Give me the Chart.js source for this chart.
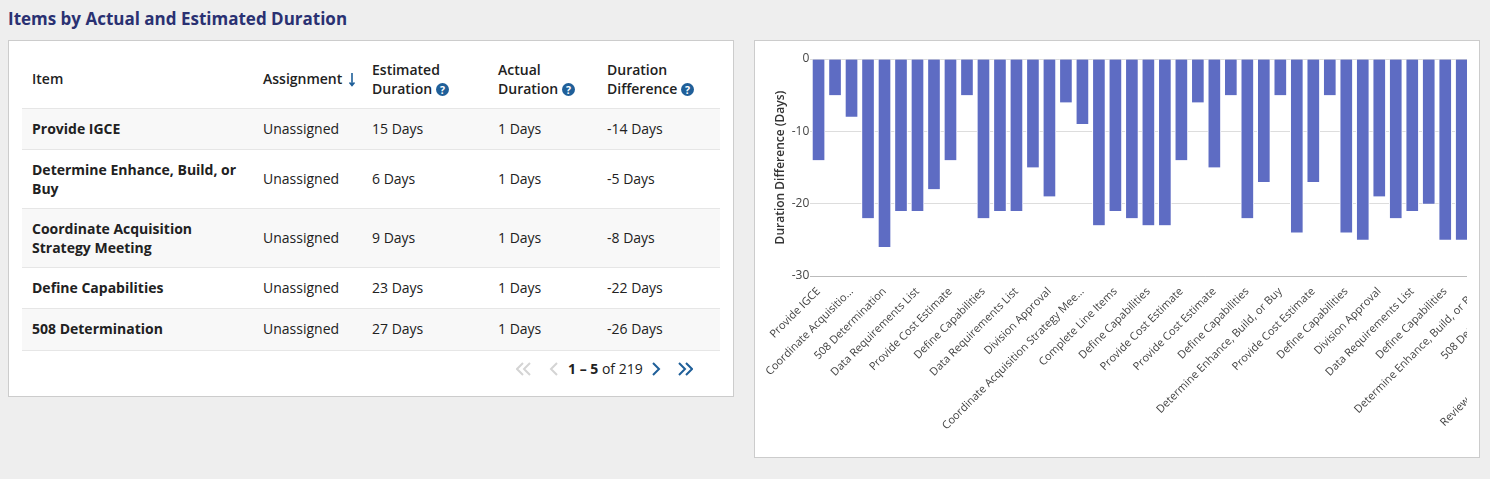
<!DOCTYPE html>
<html>
<head>
<meta charset="utf-8">
<title>Items by Actual and Estimated Duration</title>
<script src="https://cdn.jsdelivr.net/npm/chart.js@4"></script>
<style>
html, body { margin: 0; padding: 0; width: 1490px; height: 479px; overflow: hidden; background: #eeeeee; font-family: "Open Sans", sans-serif; color: #212121; }
h1 { position: absolute; left: 8px; top: 8px; margin: 0; font-size: 17px; line-height: 22px; font-weight: 700; color: #2a3172; }
.card { position: absolute; box-sizing: border-box; background: #fff; border: 1px solid #cccccc; }
#tableCard { left: 8px; top: 40px; width: 726px; height: 357px; }
#chartCard { left: 754px; top: 40px; width: 726px; height: 418px; }
#chartClip { position: absolute; left: 755px; top: 41px; width: 712px; height: 416px; overflow: hidden; }
table { position: absolute; left: 22px; top: 50px; width: 698px; border-collapse: collapse; table-layout: fixed; font-size: 14px; line-height: 19px; }
th { text-align: left; font-weight: 600; height: 58px; padding: 0 0 0 10px; box-sizing: border-box; border-bottom: 1px solid #e6e6e6; }
td { padding: 0 0 0 10px; box-sizing: border-box; border-bottom: 1px solid #e6e6e6; }
td:first-child { font-weight: 700; padding-right: 10px; }
tr.shade td { background: #f8f8f8; }
tr.last td { padding-bottom: 2px; }
.help { display: inline-block; vertical-align: -2px; margin-left: 0; }
#pager { position: absolute; left: 515px; top: 358px; width: 180px; height: 22px; font-size: 14px; line-height: 22px; }
#pager span { position: absolute; left: 53px; top: 0; white-space: nowrap; }
#pager svg { position: absolute; top: 4px; }
</style>
</head>
<body>
<h1>Items by Actual and Estimated Duration</h1>
<div class="card" id="tableCard"></div>
<table id="items"></table>
<div id="pager">
  <svg style="left:1px" width="15" height="14" fill="none" stroke="#d4d4d4" stroke-width="2"><path d="M7 1 1 7l6 6M14 1 8 7l6 6"/></svg>
  <svg style="left:34px" width="9" height="14" fill="none" stroke="#d4d4d4" stroke-width="2"><path d="M8 1 2 7l6 6"/></svg>
  <span><b>1 – 5</b> of 219</span>
  <svg style="left:137px" width="9" height="14" fill="none" stroke="#1f5f99" stroke-width="2"><path d="M1 1l6 6-6 6"/></svg>
  <svg style="left:163px" width="15" height="14" fill="none" stroke="#1f5f99" stroke-width="2"><path d="M1 1l6 6-6 6M8 1l6 6-6 6"/></svg>
</div>
<div class="card" id="chartCard"></div>
<div id="chartClip"><canvas id="durationChart" width="849" height="416"></canvas></div>
<script>
const tableHeaders = ['Item', 'Assignment', 'Estimated<br>Duration', 'Actual<br>Duration', 'Duration<br>Difference']
const tableItems = ['Provide IGCE', 'Determine Enhance, Build, or Buy', 'Coordinate Acquisition Strategy Meeting', 'Define Capabilities', '508 Determination']
const tableEstimated = [15, 6, 9, 23, 27]
const tableActual = [1, 1, 1, 1, 1]
const tableDifference = [-14, -5, -8, -22, -26]
const rowHeights = [41, 59, 59, 41, 42]

// one tick label every two bars. the chart runs past the clip edge: the blank slot is a short label that is cut off completely,
// and only "Review I" can be read of the last one, the rest of it is a guess
const tickLabels = ['Provide IGCE', 'Coordinate Acquisitio...', '508 Determination', 'Data Requirements List', 'Provide Cost Estimate', 'Define Capabilities', 'Data Requirements List', 'Division Approval', 'Coordinate Acquisition Strategy Mee...', 'Complete Line Items', 'Define Capabilities', 'Provide Cost Estimate', 'Provide Cost Estimate', 'Define Capabilities', 'Determine Enhance, Build, or Buy', 'Provide Cost Estimate', 'Define Capabilities', 'Division Approval', 'Data Requirements List', 'Define Capabilities', 'Determine Enhance, Build, or Buy', '508 Determination', '', 'Review Independent Government C...']
const durationDifference = [-14, -5, -8, -22, -26, -21, -21, -18, -14, -5, -22, -21, -21, -15, -19, -6, -9, -23, -21, -22, -23, -23, -14, -6, -15, -5, -22, -17, -5, -24, -17, -5, -24, -25, -19, -22, -21, -20, -25, -25]
const yTicks = [0, -10, -20, -30]

const help = '<svg class="help" width="13" height="13"><circle cx="6.5" cy="6.5" r="6.5" fill="#1f5f99"/><text x="6.5" y="10.5" font-size="10.5" font-weight="700" fill="#fff" text-anchor="middle">?</text></svg>'
const arrow = ' <svg width="8" height="15" style="vertical-align:-3px;margin-left:2px" fill="none" stroke="#1f5f99" stroke-width="1.6"><path d="M4 1v12M1.5 10.5 4 13.5l2.5-3"/></svg>'

let html = '<colgroup><col style="width:231px"><col style="width:109px"><col style="width:126px"><col style="width:109px"><col style="width:123px"></colgroup><tr>'
tableHeaders.forEach((h, i) => {
    html += '<th>' + h + (i == 1 ? arrow : '') + (i > 1 ? ' ' + help : '') + '</th>'
})
html += '</tr>'
tableItems.forEach((item, i) => {
    let cls = (i % 2 == 0 ? 'shade' : '') + (i == tableItems.length - 1 ? ' last' : '')
    html += '<tr class="' + cls + '" style="height:' + rowHeights[i] + 'px">'
    html += '<td>' + item + '</td>'
    html += '<td>Unassigned</td>'
    html += '<td>' + tableEstimated[i] + ' Days</td>'
    html += '<td>' + tableActual[i] + ' Days</td>'
    html += '<td>' + tableDifference[i] + ' Days</td></tr>'
})
document.getElementById('items').innerHTML = html

const ctx = document.getElementById('durationChart')
const myChart = new Chart(ctx, {
    type: 'bar',
    data: {
        labels: tickLabels.flatMap(l => [l, '']),
        datasets: [{
            label: 'Duration Difference (Days)',
            data: durationDifference,
            backgroundColor: '#5e6cc3',
            borderColor: '#ffffff',
            borderWidth: { left: 1, right: 1, top: 0, bottom: 0 },
            barThickness: 13
        }]
    },
    options: {
        responsive: false,
        animation: false,
        layout: { padding: { top: 18, right: 0, bottom: 0, left: 0 } },
        plugins: { legend: { display: false } },
        scales: {
            x: {
                grid: { display: false },
                border: { display: false },
                afterFit: scale => { scale.height = 181 },
                ticks: {
                    autoSkip: false,
                    minRotation: 45,
                    maxRotation: 45,
                    padding: 1,
                    color: '#444444',
                    font: { family: '"Open Sans"', size: 11 }
                }
            },
            y: {
                min: -30,
                max: 0,
                afterFit: scale => { scale.width = 55.3 },
                afterBuildTicks: scale => { scale.ticks = yTicks.map(v => ({ value: v })) },
                border: { display: false },
                grid: {
                    drawTicks: false,
                    color: c => c.tick.value == -30 ? '#bbbbbb' : '#dddddd'
                },
                ticks: {
                    padding: 1,
                    color: '#444444',
                    font: { family: '"Open Sans"', size: 12 }
                },
                title: {
                    display: true,
                    text: 'Duration Difference (Days)',
                    color: '#333333',
                    padding: { top: 18, bottom: 0 },
                    font: { family: '"Open Sans"', size: 12, weight: '600' }
                }
            }
        }
    }
})
</script>
</body>
</html>
